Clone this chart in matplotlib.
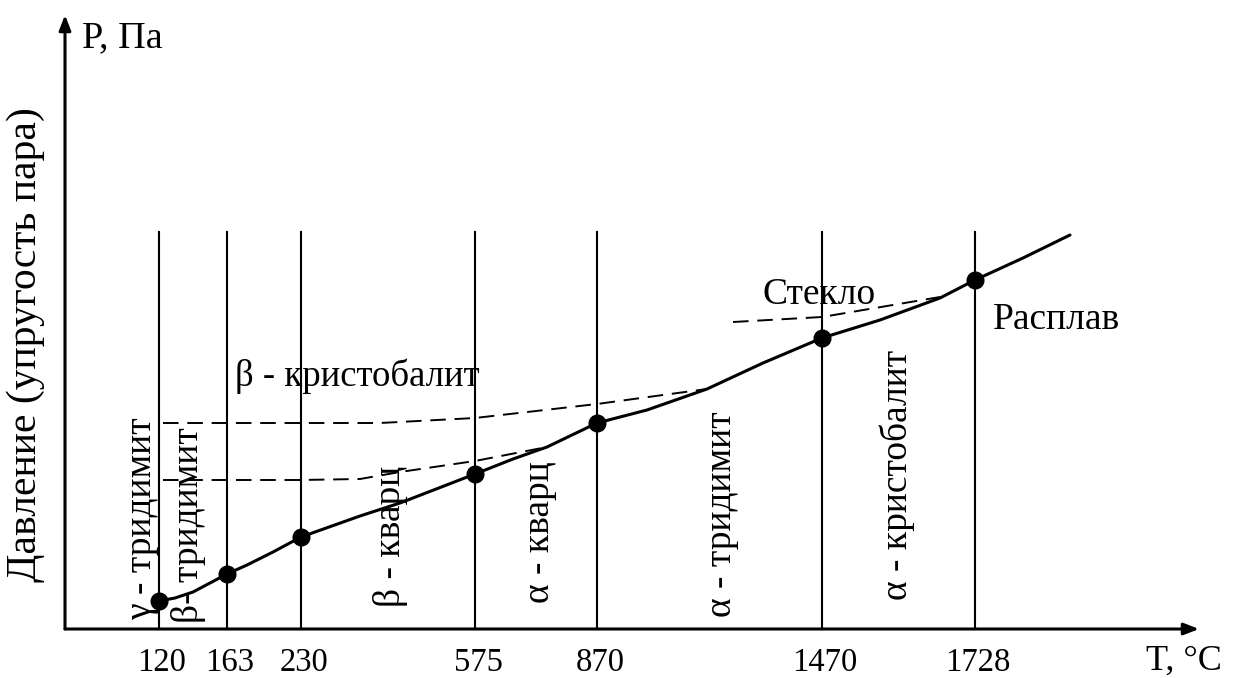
"""
Схема: упругость пара SiO2 по модификациям в зависимости от температуры.
Оси схематичные: положения по T и P условные (в пикселях схемы).
"""

import matplotlib.pyplot as plt

plt.rcParams["font.family"] = ["Liberation Serif", "DejaVu Serif"]

# температуры переходов и их условные положения на оси T
temps = [120, 163, 230, 575, 870, 1470, 1728]
t_pos = [94, 162, 236, 410, 532, 757, 910]
# давление в точках переходов
p_points = [28, 55, 92, 155, 206, 291, 349]

# основная кривая P(T)
curve_x = [94, 110, 128, 145, 162, 182, 208, 236, 295, 335, 410, 448, 482,
           532, 582, 642, 698, 757, 815, 875, 910, 958, 1005]
curve_y = [28, 31, 37, 46, 55, 64, 77, 92, 113, 126, 155, 170, 182,
           206, 219, 240, 266, 291, 309, 331, 349, 371, 394]

# метастабильные продолжения (пунктир)
crist_x = [98, 235, 315, 410, 532, 642]
crist_y = [206, 206, 206, 211, 225, 240]
quartz_x = [98, 235, 295, 335, 410, 482]
quartz_y = [149, 149, 150, 157, 168, 182]
glass_x = [668, 757, 875]
glass_y = [307, 312, 332]

TOP = 397          # верх вертикальных линий
FS = 27

fig = plt.figure(figsize=(12.37, 6.78), dpi=100)
ax = fig.add_axes([0, 0, 1, 1])
ax.set_xlim(-65, 1172)
ax.set_ylim(-49, 629)
ax.axis("off")

# оси со стрелками
arrow = dict(arrowstyle="-|>,head_length=0.9,head_width=0.35",
             color="black", lw=2.2, shrinkA=0, shrinkB=0)
ax.annotate("", xy=(1134, 0), xytext=(0, 0), arrowprops=arrow)
ax.annotate("", xy=(0, 614), xytext=(0, 0), arrowprops=arrow)

# вертикальные линии переходов + подписи температур
for x, t in zip(t_pos, temps):
    ax.plot([x, x], [0, TOP], color="black", lw=1.5)
    ax.text(x + 3, -34, str(t), ha="center", va="center", fontsize=23.5)

ax.plot(curve_x, curve_y, color="black", lw=2.2, solid_capstyle="round")
for xs, ys in [(crist_x, crist_y), (quartz_x, quartz_y), (glass_x, glass_y)]:
    ax.plot(xs, ys, color="black", lw=1.4, dashes=(8, 4.5))
ax.plot(t_pos, p_points, "o", color="black", ms=12, zorder=5)

ax.text(17, 591, "P, Па", ha="left", va="center", fontsize=27.5)
ax.text(1157, -32, "T, °C", ha="right", va="center", fontsize=26)
ax.text(-39, 284, "Давление (упругость пара)", rotation=90,
        ha="center", va="center", fontsize=30)

ax.text(292, 253, "β - кристобалит", ha="center", va="center", fontsize=26.5)
ax.text(754, 334, "Стекло", ha="center", va="center", fontsize=FS)
ax.text(928, 309, "Расплав", ha="left", va="center", fontsize=FS)

phases = [
    (77, 9, "γ - тридимит"),
    (123, 6, "β- тридимит"),
    (325, 22, "β - кварц"),
    (475, 26, "α - кварц"),
    (657, 12, "α - тридимит"),
    (832, 29, "α - кристобалит"),
]
for x, y, s in phases:
    ax.text(x, y, s, rotation=90, rotation_mode="anchor",
            ha="left", va="center", fontsize=FS)

fig.savefig("out.png", dpi=100)
